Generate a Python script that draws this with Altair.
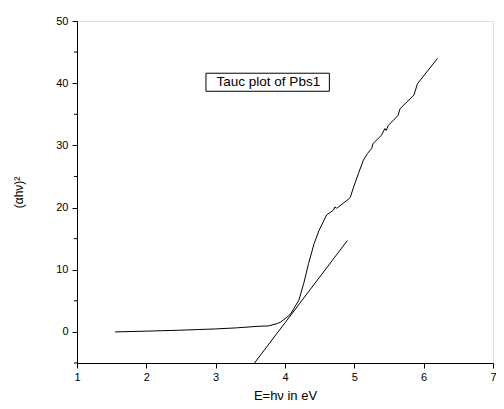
import altair as alt
import pandas as pd

curve_x = [1.55, 2.0, 2.5, 2.75, 3.0, 3.3, 3.61, 3.76, 3.89, 3.94, 4.03, 4.08, 4.13, 4.20,
           4.27, 4.34, 4.42, 4.49, 4.60, 4.70, 4.72, 4.74, 4.76, 4.91, 4.94, 4.99, 5.06,
           5.13, 5.19, 5.25, 5.27, 5.39, 5.44, 5.46, 5.49, 5.63, 5.66, 5.86, 5.91, 6.20]
curve_y = [0.0, 0.12, 0.28, 0.38, 0.48, 0.65, 0.9, 0.96, 1.35, 1.6, 2.4, 2.85, 3.8, 5.1,
           7.8, 11.0, 14.2, 16.3, 18.8, 19.6, 20.1, 19.9, 20.0, 21.3, 21.6, 23.3, 25.5,
           27.6, 28.7, 29.5, 30.3, 31.6, 32.7, 32.4, 33.2, 34.8, 35.9, 38.1, 39.9, 44.0]
fit_x = [3.56, 4.90]
fit_y = [-5.0, 14.7]
x_ticks = [1, 1.5, 2, 2.5, 3, 3.5, 4, 4.5, 5, 5.5, 6, 6.5, 7]
y_major = [0, 10, 20, 30, 40, 50]
y_minor = [-5, 5, 15, 25, 35, 45]
label_text = ["Tauc plot of Pbs1"]
label_pos = [3.76, 40.15]
box_x = [2.86, 4.64]
box_y = [38.7, 41.6]

FONT = "Liberation Sans"

df_curve = pd.DataFrame({"x": curve_x, "y": curve_y, "i": range(len(curve_x))})
df_fit = pd.DataFrame({"x": fit_x, "y": fit_y})
df_label = pd.DataFrame({"x": [label_pos[0]], "y": [label_pos[1]], "t": label_text})
df_box = pd.DataFrame({"x": [box_x[0]], "x2": [box_x[1]], "y": [box_y[0]], "y2": [box_y[1]]})
df_minor = pd.DataFrame({"v": y_minor})

xscale = alt.Scale(domain=[1, 7], nice=False, zero=False)
yscale = alt.Scale(domain=[-5, 50], nice=False, zero=False)

xaxis = alt.Axis(
    values=x_ticks,
    labelExpr="datum.value % 1 == 0 ? format(datum.value, 'd') : ''",
    tickSize={"condition": {"test": "datum.value % 1 != 0", "value": 3}, "value": 5},
    title="E=hν in eV", titleFontSize=13, titleFont=FONT, titleFontWeight="normal",
    titlePadding=7, labelFont=FONT, labelFontSize=11, labelPadding=3,
    domainColor="black", tickColor="black", labelColor="black", titleColor="black",
    grid=False, labelFlush=False, labelOverlap=False,
)
yaxis = alt.Axis(
    values=y_major, format="d", tickSize=5,
    title="(αhν)²", titleFontSize=12, titleFont=FONT, titleFontWeight="normal",
    titlePadding=30, labelFont=FONT, labelFontSize=11, labelPadding=4,
    domainColor="black", tickColor="black", labelColor="black", titleColor="black",
    grid=False, labelFlush=False, labelOverlap=False,
)

curve = alt.Chart(df_curve).mark_line(color="black", strokeWidth=1).encode(
    x=alt.X("x:Q", scale=xscale, axis=xaxis),
    y=alt.Y("y:Q", scale=yscale, axis=yaxis),
    order="i:Q",
)
fit = alt.Chart(df_fit).mark_line(color="black", strokeWidth=1).encode(
    x=alt.X("x:Q", scale=xscale),
    y=alt.Y("y:Q", scale=yscale),
)
minor = alt.Chart(df_minor).mark_rule(color="black", strokeWidth=1).encode(
    y=alt.Y("v:Q", scale=yscale),
    x=alt.value(-3), x2=alt.value(0),
)
box = alt.Chart(df_box).mark_rect(fill="white", stroke="black", strokeWidth=1).encode(
    x=alt.X("x:Q", scale=xscale), x2="x2:Q",
    y=alt.Y("y:Q", scale=yscale), y2="y2:Q",
)
label = alt.Chart(df_label).mark_text(font=FONT, fontSize=13.5, color="black").encode(
    x=alt.X("x:Q", scale=xscale),
    y=alt.Y("y:Q", scale=yscale),
    text="t:N",
)

chart = alt.layer(curve, fit, minor, box, label).properties(
    width=416, height=342,
    autosize=alt.AutoSizeParams(type="none"),
    padding={"left": 69, "top": 13, "right": 3, "bottom": 38},
).configure_view(stroke=None).configure(background="white")

chart.save("out.html", embed_options={"renderer": "svg", "actions": False})
